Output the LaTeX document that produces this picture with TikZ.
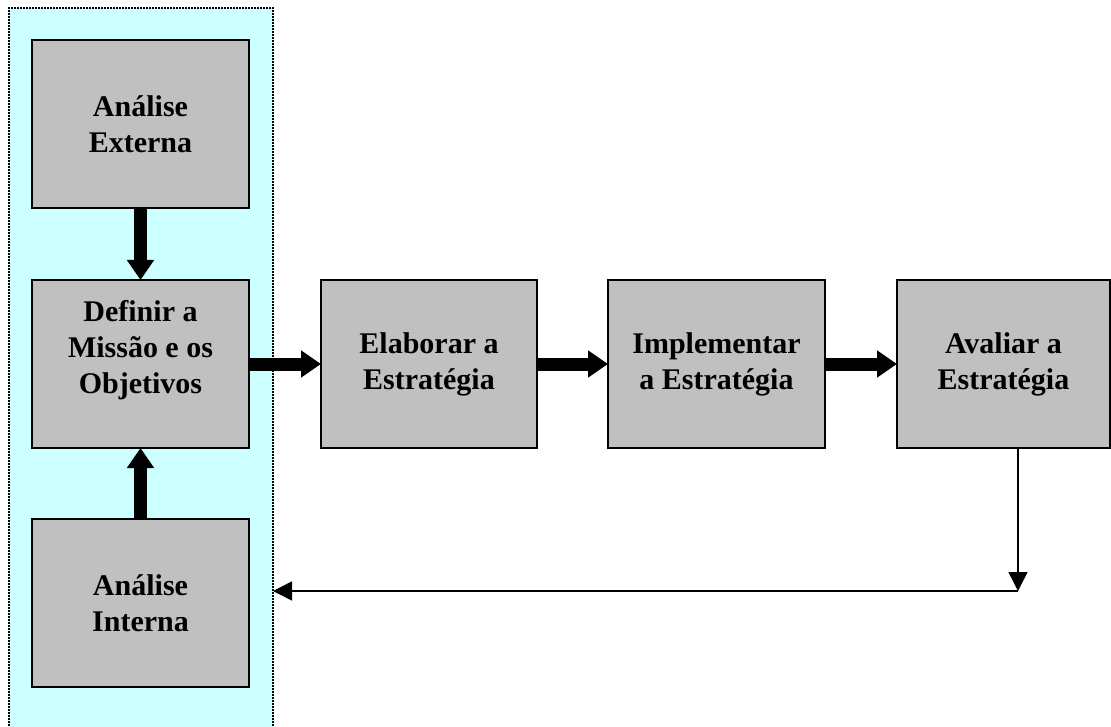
\documentclass[tikz,border=0pt]{standalone}
\usepackage{fontspec}
\setmainfont{Liberation Serif}
\usetikzlibrary{arrows.meta}
\definecolor{panelcyan}{HTML}{CCFFFF}
\definecolor{boxgray}{HTML}{C0C0C0}

\begin{document}
\begin{tikzpicture}[x=1pt,y=-1pt,
  stage/.style={draw=black, line width=1.5pt, fill=boxgray,
    minimum width=217pt, minimum height=168pt, inner sep=0pt, outer sep=0pt,
    anchor=north west, font=\fontsize{30}{36}\selectfont\bfseries, align=center},
  stagetext/.style={font=\fontsize{30}{36}\selectfont\bfseries, align=center, inner sep=0pt},
  panelbox/.style={fill=panelcyan, draw=none, minimum width=264pt, minimum height=730pt,
    inner sep=0pt, outer sep=0pt, anchor=north west},
  panelborder/.style={line width=1.8pt, dash pattern=on 1.6pt off 1.4pt},
  bigarrow/.style={line width=13pt, -{Triangle[length=20pt,width=26pt]}},
  thinarrow/.style={line width=1.5pt, -{Triangle[length=19pt,width=19pt]}},
]
\useasboundingbox (0,0) rectangle (1111,727);
\clip (0,0) rectangle (1111,727);

% analysis panel
\node[panelbox] (panel) at (9,8) {};
\draw[panelborder] (panel.south west) -- (panel.north west) -- (panel.north east) -- (panel.south east);

% stages
\node[stage] (ext) at (32,40) {Análise\\Externa};
\node[stage] (def) at (32,280) {};
\node[stagetext] (deftext) at (140.5,350) {Definir a\\Missão e os\\Objetivos};
\node[stage] (int) at (32,519) {Análise\\Interna};
\node[stage, minimum width=216pt] (ela) at (321,280) {Elaborar a\\Estratégia};
\node[stage] (imp) at (608,280) {Implementar\\a Estratégia};
\node[stage, minimum width=213pt] (ava) at (897,280) {Avaliar a\\Estratégia};

% main flow
\draw[bigarrow] (ext.south) -- (def.north);
\draw[bigarrow] (int.north) -- (def.south);
\draw[bigarrow] (def.east) -- (ela.west);
\draw[bigarrow] (ela.east) -- (imp.west);
\draw[bigarrow] (imp.east) -- (ava.west);

% feedback loop
\coordinate (fbtop) at (1018,448);
\coordinate (fbcorner) at (1018,591);
\draw[thinarrow] (fbtop) -- (fbcorner);
\draw[thinarrow] (fbcorner) -- (panel.east |- fbcorner);
\end{tikzpicture}
\end{document}
